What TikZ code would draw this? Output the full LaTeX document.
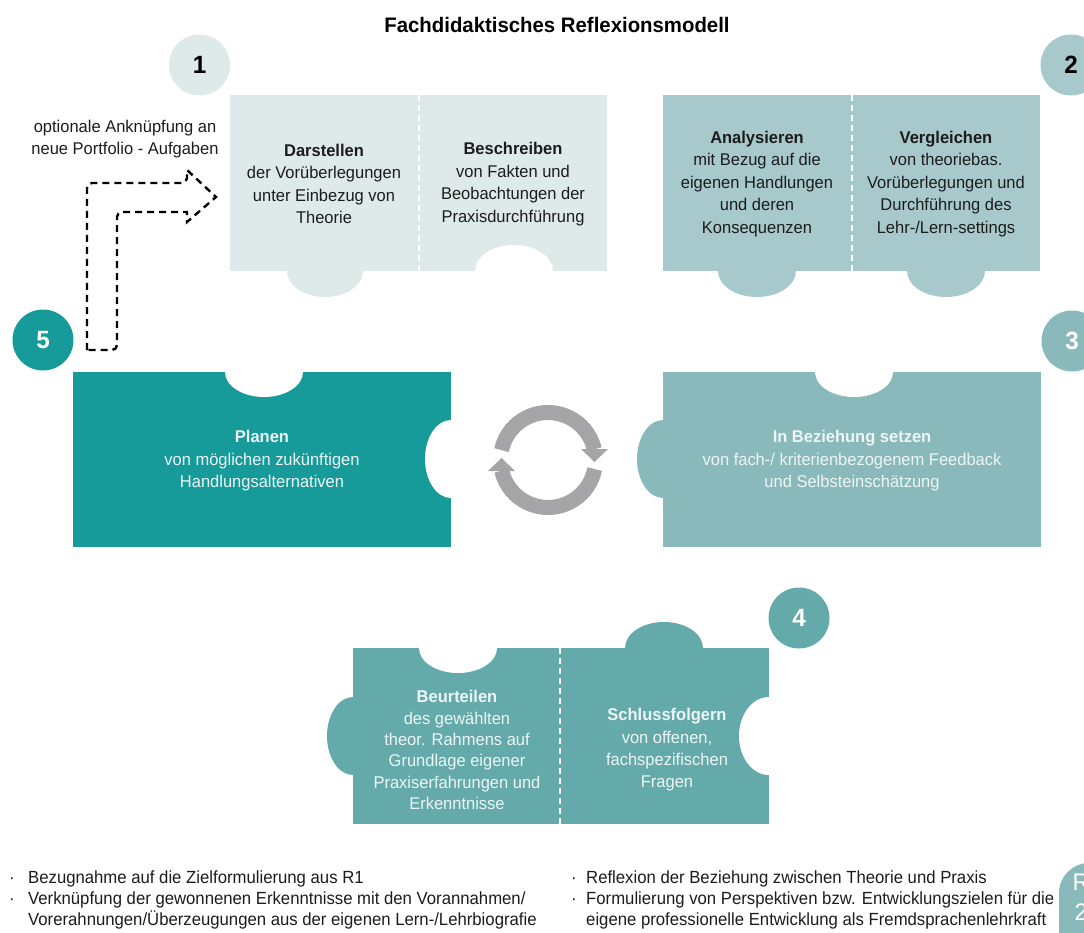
\documentclass[tikz,border=0pt]{standalone}
\usepackage{fontspec}
\setmainfont{Liberation Sans}[FakeStretch=0.97]
\newfontfamily\bottomfont{Liberation Sans}[FakeStretch=0.95]
\definecolor{cPa}{HTML}{DEEAEA}
\definecolor{cPb}{HTML}{A8C9CB}
\definecolor{cPc}{HTML}{89B9BA}
\definecolor{cPd}{HTML}{64AAAB}
\definecolor{cPe}{HTML}{169A9A}
\definecolor{cGray}{HTML}{A5A4A6}
\definecolor{txtdark}{HTML}{1C1C1C}
\definecolor{txtlight}{HTML}{EDF5F5}
\begin{document}
\begin{tikzpicture}[x=1pt,y=-1pt,
  ptxt/.style={align=center,font=\fontsize{17}{22.5}\selectfont,text=txtdark,inner sep=0pt},
  ptxtw/.style={ptxt,text=txtlight},
  numc/.style={circle,minimum size=61pt,inner sep=0pt,font=\fontsize{25}{25}\selectfont\bfseries},
  divider/.style={draw=white,line width=2pt,dash pattern=on 6pt off 4pt},
  dashline/.style={draw=black,line width=2.4pt,dash pattern=on 7pt off 5pt},
  cyc/.style={draw=cGray,line width=15pt},
  btxt/.style={font=\bottomfont\fontsize{17.6}{21}\selectfont,text=txtdark,inner sep=0pt,anchor=mid west}]
\useasboundingbox (0,0) rectangle (1084,933);
\clip (0,0) rectangle (1084,933);

% title
\node[font=\fontsize{21}{21}\selectfont\bfseries,text=black] (title) at (557,25) {Fachdidaktisches Reflexionsmodell};

% piece 1
\fill[cPa] (230,95) rectangle (607,271);
\fill[cPa] (325,271) ellipse[x radius=38,y radius=26];
\fill[white] (514,271) ellipse[x radius=39,y radius=26];
\draw[divider] (419,95) -- (419,271);
\node[ptxt] (t1a) at (324,184) {\textbf{Darstellen}\\der Vorüberlegungen\\unter Einbezug von\\Theorie};
\node[ptxt] (t1b) at (513,184) {\textbf{Beschreiben}\\von Fakten und\\Beobachtungen der\\Praxisdurchführung};

% piece 2
\fill[cPb] (663,95) rectangle (1040,271);
\fill[cPb] (757,271) ellipse[x radius=39,y radius=26];
\fill[cPb] (946,271) ellipse[x radius=39,y radius=26];
\draw[divider] (852,95) -- (852,271);
\node[ptxt] (t2a) at (757,184) {\textbf{Analysieren}\\mit Bezug auf die\\eigenen Handlungen\\und deren\\Konsequenzen};
\node[ptxt] (t2b) at (946,184) {\textbf{Vergleichen}\\von theoriebas.\\Vorüberlegungen und\\Durchführung des\\Lehr-/Lern-settings};

% piece 5
\fill[cPe] (73,372) rectangle (451,547);
\fill[white] (264,372) ellipse[x radius=39,y radius=25];
\fill[white] (451,459) ellipse[x radius=26,y radius=39];
\node[ptxtw] (t5) at (262,461) {\textbf{Planen}\\von möglichen zukünftigen\\Handlungsalternativen};

% piece 3
\fill[cPc] (663,372) rectangle (1041,547);
\fill[white] (854,372) ellipse[x radius=39,y radius=25];
\fill[cPc] (663,459) ellipse[x radius=26,y radius=39];
\node[ptxtw] (t3) at (852,461) {\textbf{In Beziehung setzen}\\von fach-/ kriterienbezogenem Feedback\\und Selbsteinschätzung};

% piece 4
\fill[cPd] (353,648) rectangle (769,824);
\fill[white] (458,648) ellipse[x radius=39,y radius=25];
\fill[cPd] (664,648) ellipse[x radius=39,y radius=26];
\fill[cPd] (353,736) ellipse[x radius=26,y radius=39];
\fill[white] (769,736) ellipse[x radius=30,y radius=39];
\draw[divider] (560,648) -- (560,824);
\node[ptxtw,font=\fontsize{17}{21.3}\selectfont] (t4a) at (457,750) {\textbf{Beurteilen}\\des gewählten\\theor. Rahmens auf\\Grundlage eigener\\Praxiserfahrungen und\\Erkenntnisse};
\node[ptxtw,font=\fontsize{17}{22.3}\selectfont] (t4b) at (667,750) {\textbf{Schlussfolgern}\\von offenen,\\fachspezifischen\\Fragen};

% number circles
\node[numc,fill=cPa,text=black] (n1) at (199.5,65) {1};
\node[numc,fill=cPb,text=black] (n2) at (1071,65) {2};
\node[numc,fill=cPe,text=white] (n5) at (43,340) {5};
\node[numc,fill=cPc,text=white] (n3) at (1072,341) {3};
\node[numc,fill=cPd,text=white] (n4) at (799,618) {4};

% cycle arrows
\draw[cyc] (548,460) ++(-168:47.5) arc[start angle=-168,end angle=-13,radius=47.5];
\fill[cGray] (581,449) -- (608,449) -- (594.5,462) -- cycle;
\draw[cyc] (548,460) ++(11:47.5) arc[start angle=11,end angle=167,radius=47.5];
\fill[cGray] (488,471) -- (515,471) -- (501.5,458) -- cycle;

% dashed arrow
\draw[dashline] (87,350) {[rounded corners=5] -- (87,183) -- (187,183)} -- (187,170) -- (216,197) -- (187,222) -- (187,212) {[rounded corners=5] -- (117,212) -- (117,350)} -- cycle;
\node[ptxt,align=center] (opt) at (125,139) {optionale Anknüpfung an\\neue Portfolio - Aufgaben};

% bottom text
\node[btxt] (bl1d) at (9,881) {·};
\node[btxt] (bl1) at (28,881) {Bezugnahme auf die Zielformulierung aus R1};
\node[btxt] (bl2d) at (9,902) {·};
\node[btxt] (bl2) at (28,902) {Verknüpfung der gewonnenen Erkenntnisse mit den Vorannahmen/};
\node[btxt] (bl3) at (28,923) {Vorerahnungen/Überzeugungen aus der eigenen Lern-/Lehrbiografie};
\node[btxt] (br1d) at (571,881) {·};
\node[btxt] (br1) at (586,881) {Reflexion der Beziehung zwischen Theorie und Praxis};
\node[btxt] (br2d) at (571,902) {·};
\node[btxt] (br2) at (586,902) {Formulierung von Perspektiven bzw. Entwicklungszielen für die};
\node[btxt] (br3) at (586,923) {eigene professionelle Entwicklung als Fremdsprachenlehrkraft};

% R2 badge
\fill[cPc,rounded corners=30pt] (1059,863) rectangle (1130,990);
\node[font=\fontsize{24}{24}\selectfont,text=white,inner sep=0pt] (r2a) at (1081,882) {R};
\node[font=\fontsize{24}{24}\selectfont,text=white,inner sep=0pt] (r2b) at (1081,912) {2};
\end{tikzpicture}
\end{document}
